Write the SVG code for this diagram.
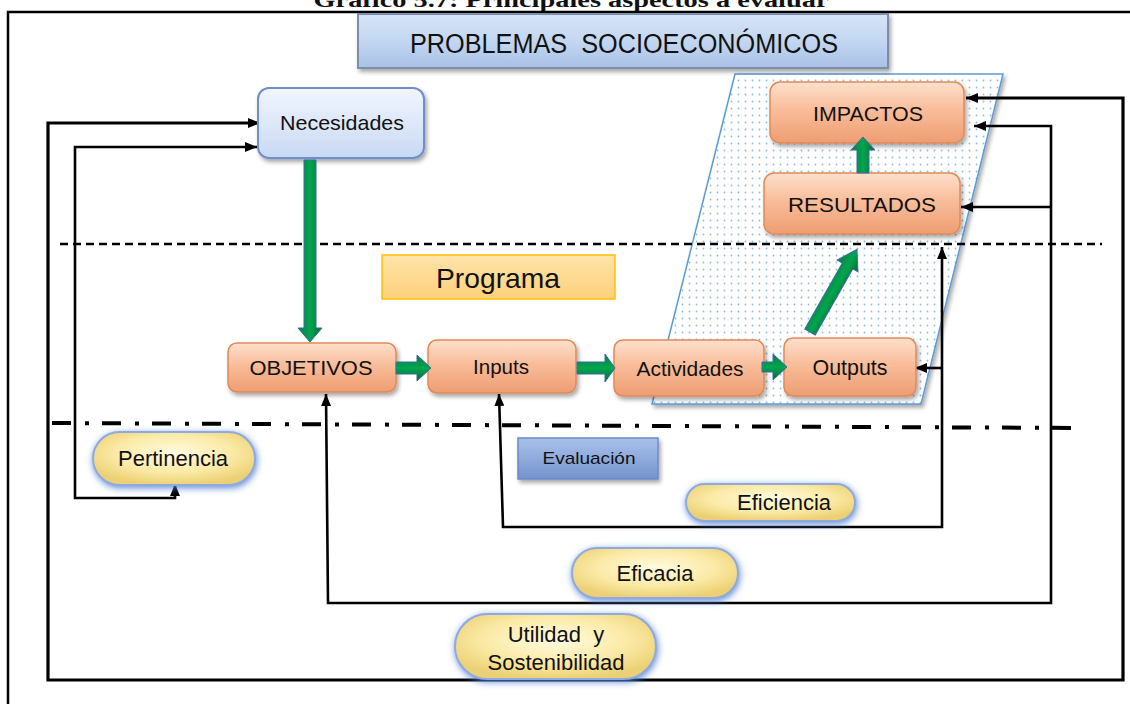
<svg xmlns="http://www.w3.org/2000/svg" width="1130" height="704" viewBox="0 0 1130 704">
<style>
text{font-family:"Liberation Sans",Arial,sans-serif;fill:#111;text-anchor:middle}
.title{font-family:"Liberation Serif","Times New Roman",serif;font-weight:bold;font-size:21px}
.box{fill:url(#orange);stroke:#e08a58;stroke-width:1.5;filter:url(#shadow)}
.pill{fill:url(#yellow);stroke:#8eaadf;stroke-width:2;filter:url(#glow)}
.t21{font-size:21px}
.t22{font-size:22px}
.conn{fill:none;stroke:#000;stroke-width:2.6;stroke-linejoin:miter}
.thick{stroke-width:3.2}
.green{stroke:#3b6aa8;stroke-width:1}
</style>
<defs>
<linearGradient id="orange" x1="0" y1="0" x2="0" y2="1">
<stop offset="0" stop-color="#fde0cc"/><stop offset="0.45" stop-color="#f9bd9a"/><stop offset="1" stop-color="#ee9d72"/>
</linearGradient>
<linearGradient id="blue" x1="0" y1="0" x2="0" y2="1">
<stop offset="0" stop-color="#f2f6ff"/><stop offset="1" stop-color="#c8d9f3"/>
</linearGradient>
<linearGradient id="probl" x1="0" y1="0" x2="0" y2="1">
<stop offset="0" stop-color="#d6e4f7"/><stop offset="0.5" stop-color="#c3d7f2"/><stop offset="1" stop-color="#a8c1e6"/>
</linearGradient>
<linearGradient id="eval" x1="0" y1="0" x2="0" y2="1">
<stop offset="0" stop-color="#a9c1ea"/><stop offset="0.5" stop-color="#8faadc"/><stop offset="1" stop-color="#7593cc"/>
</linearGradient>
<linearGradient id="prog" x1="0" y1="0" x2="0" y2="1">
<stop offset="0" stop-color="#ffe4aa"/><stop offset="1" stop-color="#fdd07a"/>
</linearGradient>
<radialGradient id="yellow" cx="0.5" cy="0.4" r="0.6">
<stop offset="0" stop-color="#fffbe0"/><stop offset="0.6" stop-color="#fbeaa6"/><stop offset="1" stop-color="#ecd074"/>
</radialGradient>
<linearGradient id="gH" x1="0" y1="0" x2="1" y2="0">
<stop offset="0" stop-color="#0d7a3e"/><stop offset="0.5" stop-color="#00a650"/><stop offset="1" stop-color="#066b33"/>
</linearGradient>
<linearGradient id="gV" x1="0" y1="0" x2="0" y2="1">
<stop offset="0" stop-color="#0d7a3e"/><stop offset="0.5" stop-color="#00a650"/><stop offset="1" stop-color="#066b33"/>
</linearGradient>
<pattern id="dots" width="7" height="7" patternUnits="userSpaceOnUse">
<rect width="7" height="7" fill="#fff"/><circle cx="3.5" cy="3.5" r="0.9" fill="#8dbbe6"/>
</pattern>
<filter id="shadow" x="-10%" y="-20%" width="125%" height="150%">
<feDropShadow dx="2" dy="3" stdDeviation="2" flood-color="#000" flood-opacity="0.35"/>
</filter>
<filter id="glow" x="-20%" y="-40%" width="140%" height="190%">
<feGaussianBlur in="SourceAlpha" stdDeviation="3.5" result="b"/>
<feOffset in="b" dx="1" dy="2" result="o"/>
<feFlood flood-color="#4d7fd6" flood-opacity="0.9"/>
<feComposite in2="o" operator="in" result="g"/>
<feMerge><feMergeNode in="g"/><feMergeNode in="SourceGraphic"/></feMerge>
</filter>
<marker id="arr" viewBox="0 0 12 10" refX="12" refY="5" markerWidth="12" markerHeight="10" markerUnits="userSpaceOnUse" orient="auto-start-reverse">
<path d="M0,0 L12,5 L0,10 z" fill="#000"/>
</marker>
</defs>

<rect width="1130" height="704" fill="#fff"/>

<text class="title" x="571" y="7" textLength="515" lengthAdjust="spacingAndGlyphs">Gráfico 5.7: Principales aspectos a evaluar</text>
<path d="M8,704 L8,12 L1130,12" fill="none" stroke="#000" stroke-width="2.5"/>

<g id="zona-resultados">
<polygon points="735,74 1003,74 921,404 652,404" fill="url(#dots)" stroke="#5b9bd5" stroke-width="1.5" filter="url(#shadow)"/>
</g>

<g id="separadores">
<line x1="60" y1="244" x2="1102" y2="244" stroke="#000" stroke-width="2.5" stroke-dasharray="8 5"/>
<line x1="52" y1="423" x2="1080" y2="428" stroke="#000" stroke-width="4" stroke-dasharray="19 14 4 13"/>
</g>

<g id="connectors">
<path class="conn thick" marker-start="url(#arr)" marker-end="url(#arr)" d="M260,123 L48,123 L48,680 L1123,680 L1123,98 L966,98"/>
<path class="conn" marker-start="url(#arr)" marker-end="url(#arr)" d="M326,394 L328,603 L1051,603 L1051,126 L974,126"/>
<path class="conn" marker-end="url(#arr)" d="M1050,207 L961,207"/>
<path class="conn" marker-start="url(#arr)" marker-end="url(#arr)" d="M499,394 L503,527 L942,527 L942,247"/>
<path class="conn" marker-end="url(#arr)" d="M942,368 L915,368"/>
<path class="conn" marker-start="url(#arr)" marker-end="url(#arr)" d="M257,147 L75,147 L75,498 L175,498 L175,484"/>
</g>

<g id="problemas">
<rect x="358" y="14" width="530" height="54" fill="url(#probl)" stroke="#7d8ea8" stroke-width="2" filter="url(#shadow)"/>
<text x="624" y="53" font-size="27" textLength="428" lengthAdjust="spacingAndGlyphs">PROBLEMAS&#160; SOCIOECONÓMICOS</text>
</g>

<g id="necesidades">
<rect x="258" y="88" width="166" height="70" rx="11" fill="url(#blue)" stroke="#6f8fc8" stroke-width="2" filter="url(#shadow)"/>
<text class="t21" x="342" y="130" textLength="124" lengthAdjust="spacingAndGlyphs">Necesidades</text>
</g>

<g id="programa">
<rect x="382" y="255" width="233" height="44" fill="url(#prog)" stroke="#ffc000" stroke-width="1.5"/>
<text x="498" y="288" font-size="28" textLength="124" lengthAdjust="spacingAndGlyphs">Programa</text>
</g>

<g id="impactos">
<rect class="box" x="770" y="82" width="194" height="61" rx="10"/>
<text class="t21" x="868" y="121" textLength="110" lengthAdjust="spacingAndGlyphs">IMPACTOS</text>
</g>

<g id="resultados">
<rect class="box" x="764" y="173" width="196" height="61" rx="10"/>
<text class="t21" x="862" y="212" textLength="148" lengthAdjust="spacingAndGlyphs">RESULTADOS</text>
</g>

<g id="objetivos">
<rect class="box" x="228" y="343" width="168" height="49" rx="9"/>
<text class="t21" x="311" y="375" textLength="123" lengthAdjust="spacingAndGlyphs">OBJETIVOS</text>
</g>

<g id="inputs">
<rect class="box" x="428" y="340" width="148" height="53" rx="9"/>
<text class="t21" x="501" y="374" textLength="56" lengthAdjust="spacingAndGlyphs">Inputs</text>
</g>

<g id="actividades">
<rect class="box" x="614" y="340" width="150" height="56" rx="9"/>
<text class="t21" x="690" y="376" textLength="107" lengthAdjust="spacingAndGlyphs">Actividades</text>
</g>

<g id="outputs">
<rect class="box" x="784" y="338" width="132" height="58" rx="9"/>
<text class="t22" x="850" y="375" textLength="75" lengthAdjust="spacingAndGlyphs">Outputs</text>
</g>

<g id="pertinencia">
<rect class="pill" x="93" y="432" width="162" height="53" rx="26.5"/>
<text class="t22" x="173" y="466" textLength="110" lengthAdjust="spacingAndGlyphs">Pertinencia</text>
</g>

<g id="evaluacion">
<rect x="518" y="438" width="140" height="41" fill="url(#eval)" stroke="#6a8cc7" stroke-width="1.5" filter="url(#shadow)"/>
<text x="589" y="464" font-size="17" textLength="93" lengthAdjust="spacingAndGlyphs">Evaluación</text>
</g>

<g id="eficiencia">
<rect class="pill" x="686" y="484" width="169" height="37" rx="18.5"/>
<text class="t22" x="784" y="510" textLength="94" lengthAdjust="spacingAndGlyphs">Eficiencia</text>
</g>

<g id="eficacia">
<rect class="pill" x="572" y="548" width="166" height="50" rx="25"/>
<text class="t22" x="655" y="581" textLength="77" lengthAdjust="spacingAndGlyphs">Eficacia</text>
</g>

<g id="utilidad">
<rect class="pill" x="455" y="614" width="201" height="65" rx="32.5"/>
<text class="t22" x="556" y="642">Utilidad&#160; y</text>
<text class="t22" x="556" y="670" textLength="137" lengthAdjust="spacingAndGlyphs">Sostenibilidad</text>
</g>

<g id="flechas-verdes">
<polygon class="green" fill="url(#gH)" points="304,160 316,160 316,328 322,328 310,342 298,328 304,328"/>
<polygon class="green" fill="url(#gV)" points="396,362 417,362 417,355 431,368 417,381 417,374 396,374"/>
<polygon class="green" fill="url(#gV)" points="577,362 605,362 605,354 615,368 605,382 605,374 577,374"/>
<polygon class="green" fill="url(#gV)" points="762,362 773,362 773,354 787,367 773,380 773,372 762,372"/>
<polygon class="green" fill="url(#gH)" points="857,173 869,173 869,150 875,150 863,137 851,150 857,150"/>
<polygon class="green" fill="url(#gV)" transform="translate(810,332) rotate(-60.4)" points="0,-6 76,-6 76,-12 95,0 76,12 76,6 0,6"/>
</g>
</svg>
